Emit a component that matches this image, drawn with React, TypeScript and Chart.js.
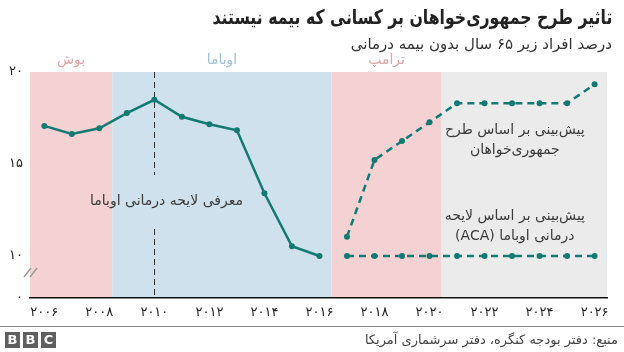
import { useEffect, useRef } from 'react';
import { Chart, registerables } from 'chart.js';

Chart.register(...registerables);

// ---------- data ----------
const titleText = 'تاثیر طرح جمهوری‌خواهان بر کسانی که بیمه نیستند';
const subtitleText = 'درصد افراد زیر ۶۵ سال بدون بیمه درمانی';
const sourceText = 'منبع: دفتر بودجه کنگره، دفتر سرشماری آمریکا';

const actualYears = [2006, 2007, 2008, 2009, 2010, 2011, 2012, 2013, 2014, 2015, 2016];
const actualValues = [17.07, 16.63, 16.94, 17.77, 18.49, 17.57, 17.16, 16.83, 13.41, 10.53, 10.0];

const projectionYears = [2017, 2018, 2019, 2020, 2021, 2022, 2023, 2024, 2025, 2026];
const republicanPlan = [11.05, 15.22, 16.25, 17.27, 18.3, 18.3, 18.3, 18.3, 18.3, 19.33];
const acaPlan = [10.0, 10.0, 10.0, 10.0, 10.0, 10.0, 10.0, 10.0, 10.0, 10.0];

const periodNames = ['بوش', 'اوباما', 'ترامپ', ''];
const periodStarts = [2005.48, 2008.47, 2016.44, 2020.44];
const periodEnds = [2008.47, 2016.44, 2020.44, 2026.45];

const xTickYears = [2006, 2008, 2010, 2012, 2014, 2016, 2018, 2020, 2022, 2024, 2026];
const yTickValues = [10, 15, 20];
const yBreakBottom = 7.72; // visual position of the "0" baseline under the axis break

const eventYear = 2010;
const eventLabel = 'معرفی لایحه درمانی اوباما';
const gopLabelLines = ['پیش‌بینی بر اساس طرح', 'جمهوری‌خواهان'];
const acaLabelLines = ['پیش‌بینی بر اساس لایحه', 'درمانی اوباما (ACA)'];

// ---------- styles ----------
const FONT = '"DejaVu Sans", "Noto Sans", sans-serif';
const TEAL = '#137a72';
const periodFills = ['#f4d1d2', '#cfe1ec', '#f4d1d2', '#ebebeb'];
const periodLabelColors = ['#e2a4a6', '#9fc0d6', '#e2a4a6', '#999'];

const toFa = (s: string) => s.replace(/\d/g, (d) => '۰۱۲۳۴۵۶۷۸۹'[Number(d)]);

const decorPlugin = {
  id: 'decor',
  beforeDraw(chart: any) {
    const { ctx, chartArea, scales } = chart;
    const xs = scales.x;
    ctx.save();
    for (let i = 0; i < periodStarts.length; i++) {
      const x0 = xs.getPixelForValue(periodStarts[i]);
      const x1 = xs.getPixelForValue(periodEnds[i]);
      ctx.fillStyle = periodFills[i];
      ctx.fillRect(x0, chartArea.top, x1 - x0, chartArea.bottom - chartArea.top);
      if (periodNames[i]) {
        ctx.font = `14px ${FONT}`;
        ctx.fillStyle = periodLabelColors[i];
        ctx.textAlign = 'center';
        ctx.textBaseline = 'middle';
        ctx.direction = 'rtl';
        ctx.fillText(periodNames[i], (x0 + x1) / 2, chartArea.top - 12);
      }
    }
    // event dashed line
    const ex = Math.round(xs.getPixelForValue(eventYear)) + 0.5;
    ctx.strokeStyle = '#333';
    ctx.lineWidth = 1;
    ctx.setLineDash([6, 4]);
    ctx.beginPath();
    ctx.moveTo(ex, chartArea.top);
    ctx.lineTo(ex, 175);
    ctx.moveTo(ex, 229);
    ctx.lineTo(ex, chartArea.bottom);
    ctx.stroke();
    ctx.setLineDash([]);
    ctx.font = `14px ${FONT}`;
    ctx.fillStyle = '#3a3a3a';
    ctx.textAlign = 'center';
    ctx.textBaseline = 'middle';
    ctx.direction = 'rtl';
    ctx.fillText(eventLabel, ex + 12, 201);

    const ax = xs.getPixelForValue(2023.1);
    gopLabelLines.forEach((t, i) => ctx.fillText(t, ax, 130 + i * 20));
    acaLabelLines.forEach((t, i) => ctx.fillText(t, ax, 216 + i * 20));
    ctx.restore();
  },
  afterDraw(chart: any) {
    const { ctx } = chart;
    ctx.save();
    ctx.strokeStyle = '#9a9a9a';
    ctx.lineWidth = 1.4;
    ctx.beginPath();
    ctx.moveTo(24, 277);
    ctx.lineTo(31, 268);
    ctx.moveTo(30, 277);
    ctx.lineTo(37, 268);
    ctx.stroke();
    ctx.restore();
  },
};

export default function App() {
  const ref = useRef<HTMLCanvasElement>(null);
  useEffect(() => {
    const canvas = ref.current!;
    const pointStyle = {
      pointRadius: 3,
      pointHoverRadius: 3,
      pointBackgroundColor: TEAL,
      pointBorderWidth: 0,
    };
    const chart = new Chart(canvas, {
      type: 'line',
      data: {
        datasets: [
          {
            label: 'actual',
            data: actualYears.map((y, i) => ({ x: y, y: actualValues[i] })),
            borderColor: TEAL,
            borderWidth: 2.5,
            ...pointStyle,
          },
          {
            label: 'gop',
            data: projectionYears.map((y, i) => ({ x: y, y: republicanPlan[i] })),
            borderColor: TEAL,
            borderWidth: 2.5,
            borderDash: [7, 5],
            ...pointStyle,
          },
          {
            label: 'aca',
            data: projectionYears.map((y, i) => ({ x: y, y: acaPlan[i] })),
            borderColor: TEAL,
            borderWidth: 2.5,
            borderDash: [7, 5],
            ...pointStyle,
          },
        ],
      },
      options: {
        responsive: true,
        maintainAspectRatio: false,
        animation: false,
        layout: { padding: { top: 72, right: 17, left: 0, bottom: 0 } },
        plugins: { legend: { display: false }, tooltip: { enabled: false } },
        scales: {
          x: {
            type: 'linear',
            min: periodStarts[0],
            max: periodEnds[periodEnds.length - 1],
            grid: { display: false, drawTicks: false },
            border: { display: true, color: '#111', width: 1.5 },
            afterBuildTicks: (s: any) => {
              s.ticks = xTickYears.map((v) => ({ value: v }));
            },
            afterFit: (s: any) => {
              s.height = 54;
            },
            ticks: {
              padding: 7,
              color: '#222',
              font: { family: FONT, size: 13 },
              callback: (v: any) => toFa(String(v)),
              maxRotation: 0,
              autoSkip: false,
            },
          },
          y: {
            type: 'linear',
            min: yBreakBottom,
            max: 20,
            grid: { display: false, drawTicks: false },
            border: { display: false },
            afterBuildTicks: (s: any) => {
              s.ticks = [yBreakBottom, ...yTickValues].map((v) => ({ value: v }));
            },
            afterFit: (s: any) => {
              s.width = 30;
            },
            ticks: {
              padding: 7,
              color: '#222',
              font: { family: FONT, size: 13 },
              callback: (v: any) => (Number(v) < 9 ? '۰' : toFa(String(v))),
            },
          },
        },
      },
      plugins: [decorPlugin],
    });
    return () => chart.destroy();
  }, []);

  return (
    <div style={{ position: 'absolute', left: 0, top: 0, width: 624, height: 352, background: '#fff', fontFamily: FONT, overflow: 'hidden' }}>
      <div style={{ position: 'absolute', left: 0, top: 0, width: 624, height: 352 }}>
        <canvas ref={ref} />
      </div>
      <div dir="rtl" style={{ position: 'absolute', right: 12, top: 3, fontSize: 20, fontWeight: 'bold', color: '#222', whiteSpace: 'nowrap', lineHeight: '28px', transform: 'scaleX(0.785)', transformOrigin: 'right center' }}>
        {titleText}
      </div>
      <div dir="rtl" style={{ position: 'absolute', right: 12, top: 34, fontSize: 15, color: '#333', whiteSpace: 'nowrap', lineHeight: '20px' }}>
        {subtitleText}
      </div>
      <div style={{ position: 'absolute', left: 0, top: 326, width: 624, height: 1, background: '#8a8a8a' }} />
      <div style={{ position: 'absolute', left: 5, top: 332, display: 'flex', gap: 3 }}>
        {['B', 'B', 'C'].map((c, i) => (
          <span key={i} style={{ width: 15, height: 16, background: '#5f5f5f', color: '#fff', fontSize: 13, fontWeight: 'bold', lineHeight: '16px', textAlign: 'center', fontFamily: '"DejaVu Sans", sans-serif' }}>
            {c}
          </span>
        ))}
      </div>
      <div dir="rtl" style={{ position: 'absolute', right: 6, top: 331, fontSize: 13, color: '#444', whiteSpace: 'nowrap', lineHeight: '18px' }}>
        {sourceText}
      </div>
    </div>
  );
}
